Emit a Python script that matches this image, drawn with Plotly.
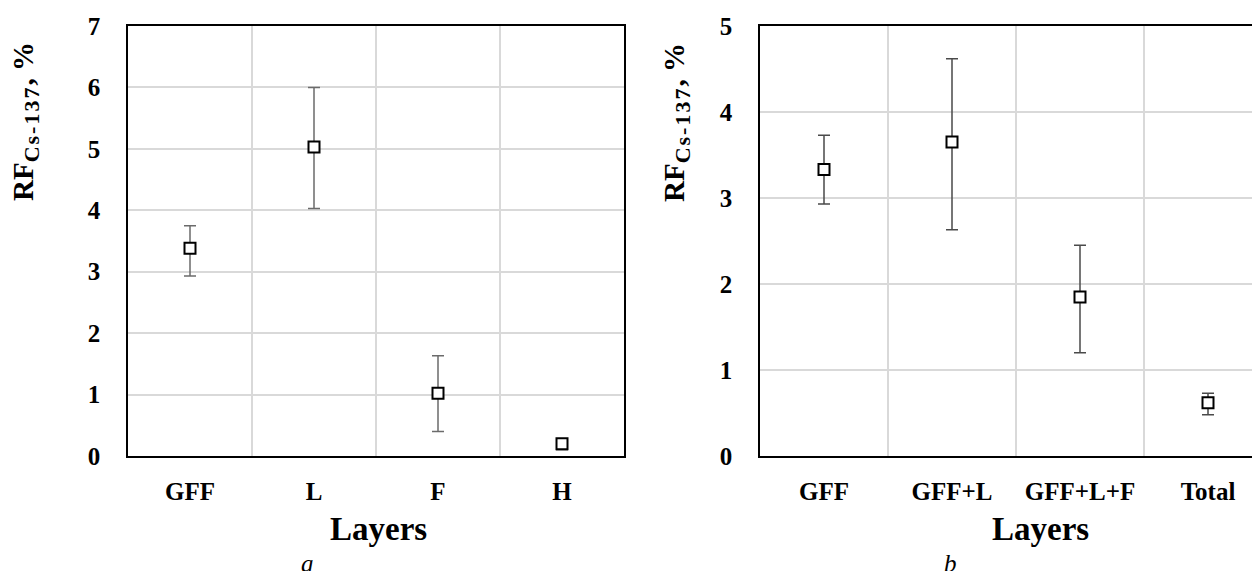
import plotly.graph_objects as go

# ---- data ----
layers_a = ["GFF", "L", "F", "H"]
rf_a = [3.38, 5.03, 1.02, 0.20]
err_plus_a = [0.37, 0.97, 0.61, 0.08]
err_minus_a = [0.45, 1.00, 0.62, 0.10]

layers_b = ["GFF", "GFF+L", "GFF+L+F", "Total"]
rf_b = [3.33, 3.65, 1.85, 0.62]
err_plus_b = [0.40, 0.97, 0.60, 0.11]
err_minus_b = [0.40, 1.02, 0.65, 0.14]

yticks_a = [0, 1, 2, 3, 4, 5, 6, 7]
yticks_b = [0, 1, 2, 3, 4, 5]

W, H = 1260, 571
OFF = 8  # page body margin of the html page
FONT = "Liberation Serif"
GRID = "#d9d9d9"


def fx(px):
    return (px - OFF) / W


def fy(py):
    return 1 - (py - OFF) / H


xa = list(range(len(layers_a)))
xb = list(range(len(layers_b)))

fig = go.Figure()

fig.add_trace(go.Scatter(
    x=xa, y=rf_a, mode="markers", marker=dict(symbol="square", size=11, color="white",
                                             line=dict(color="black", width=2)),
    error_y=dict(type="data", symmetric=False, array=err_plus_a, arrayminus=err_minus_a,
                 color="#6b6b6b", thickness=1.5, width=6),
    xaxis="x", yaxis="y", showlegend=False))

fig.add_trace(go.Scatter(
    x=xb, y=rf_b, mode="markers", marker=dict(symbol="square", size=11, color="white",
                                             line=dict(color="black", width=2)),
    error_y=dict(type="data", symmetric=False, array=err_plus_b, arrayminus=err_minus_b,
                 color="#4a4a4a", thickness=1.5, width=6),
    xaxis="x2", yaxis="y2", showlegend=False))

tickfont = dict(family=FONT, size=25, color="black", weight="bold")

y_bot = fy(456)
y_top = fy(26)

common = dict(zeroline=False, showline=True, linecolor="black", linewidth=1.5,
              ticks="", tickfont=tickfont, automargin=False)

fig.update_layout(
    width=W, height=H, autosize=False,
    margin=dict(l=0, r=0, t=0, b=0, pad=0, autoexpand=False),
    paper_bgcolor="white", plot_bgcolor="white",
    xaxis=dict(domain=[fx(128), fx(624)], range=[-0.5, len(layers_a) - 0.5],
               tickvals=xa, ticktext=layers_a, showgrid=False, mirror=True,
               ticklabelstandoff=12,
               minor=dict(tickvals=[i + 0.5 for i in xa[:-1]], showgrid=True,
                          gridcolor=GRID, gridwidth=1.5, ticks=""), **common),
    yaxis=dict(domain=[y_bot, y_top], range=[0, 7], tickvals=yticks_a,
               showgrid=True, gridcolor=GRID, gridwidth=1.5, mirror=True,
               ticklabelstandoff=21, **common),
    xaxis2=dict(domain=[fx(760), 1.0], range=[-0.5, -0.5 + (W + OFF - 760) / 128],
                tickvals=xb, ticktext=layers_b, showgrid=False, mirror=True,
                ticklabelstandoff=12, anchor="y2",
                minor=dict(tickvals=[i + 0.5 for i in xb[:-1]], showgrid=True,
                           gridcolor=GRID, gridwidth=1.5, ticks=""), **common),
    yaxis2=dict(domain=[y_bot, y_top], range=[0, 5], tickvals=yticks_b, anchor="x2",
                showgrid=True, gridcolor=GRID, gridwidth=1.5, mirror=False,
                ticklabelstandoff=21, **common),
)

ytitle = ("<b>RF<sub><span style=\"font-size:22px;letter-spacing:2px\">Cs-137</span></sub>"
          ", %</b>")
ytfont = dict(family=FONT, size=29, color="black")
for xp, yp in [(26, 122), (677, 123)]:
    fig.add_annotation(text=ytitle, textangle=-90, x=fx(xp), y=fy(yp),
                       xanchor="center", yanchor="middle",
                       xref="paper", yref="paper", showarrow=False, font=ytfont)

lfont = dict(family=FONT, size=33, color="black")
for xp, yp in [(378, 529), (1040, 529)]:
    fig.add_annotation(text="<b>Layers</b>", x=fx(xp), y=fy(yp),
                       xanchor="center", yanchor="middle",
                       xref="paper", yref="paper", showarrow=False, font=lfont)

sfont = dict(family=FONT, size=25, color="black")
for lab, xp in [("a", 307), ("b", 950)]:
    fig.add_annotation(text="<i>" + lab + "</i>", x=fx(xp), y=fy(563),
                       xanchor="center", yanchor="middle",
                       xref="paper", yref="paper", showarrow=False, font=sfont)

fig.write_html("out.html")
